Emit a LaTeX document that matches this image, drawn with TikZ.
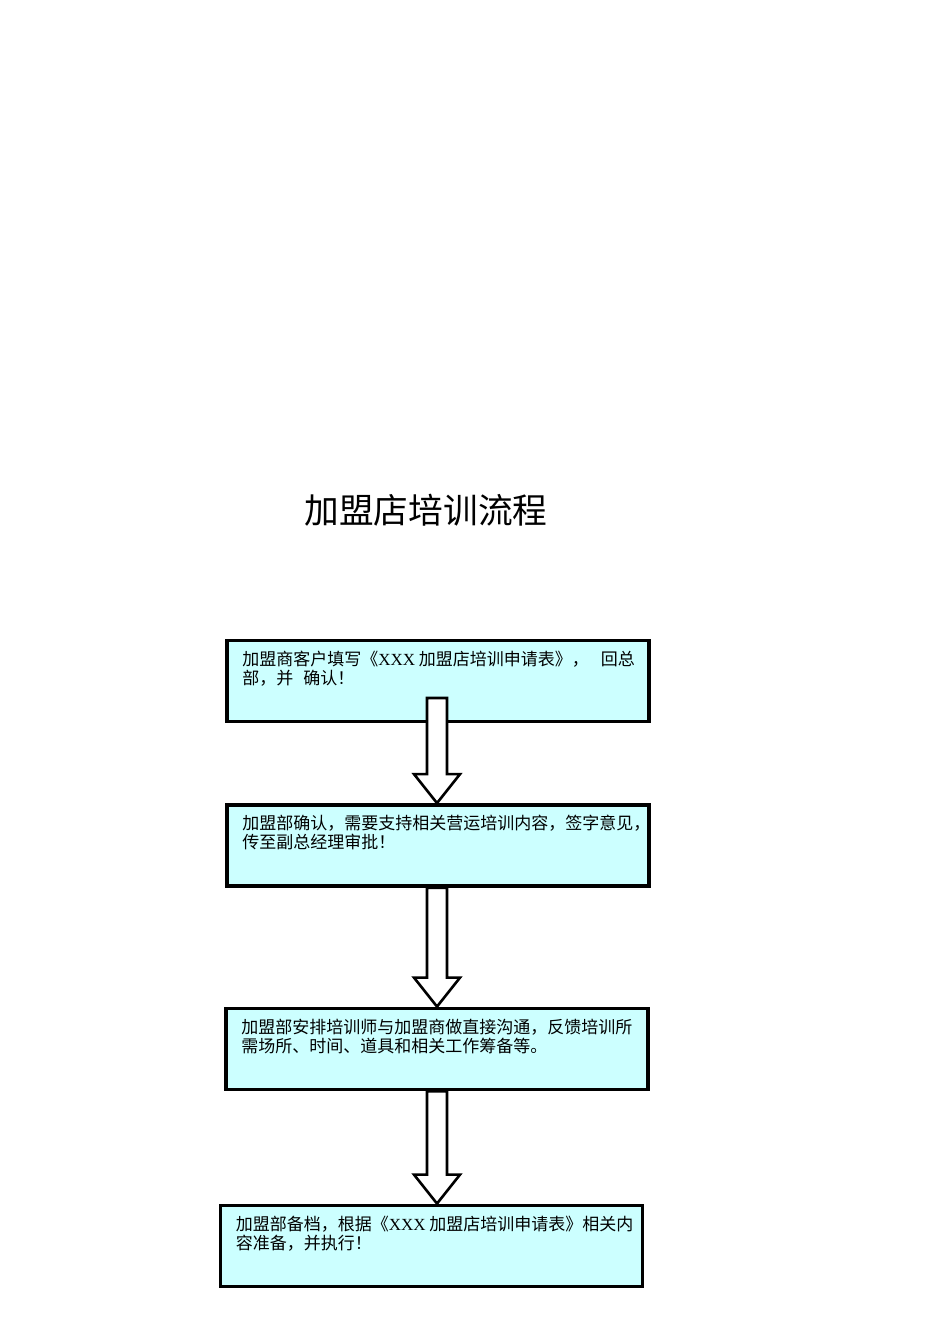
\documentclass[tikz,border=0pt]{standalone}
\usepackage{fontspec}
\setmainfont{Liberation Serif}
\newfontfamily\cjk{Noto Sans CJK SC}
\usetikzlibrary{positioning,calc}
\definecolor{boxcyan}{RGB}{204,255,255}
\tikzset{
    stepbox/.style={draw,line width=3.8pt,fill=boxcyan,minimum width=422pt,minimum height=81pt,inner sep=0pt},
    steptext/.style={anchor=north west,align=left,inner sep=0pt,font=\cjk\fontsize{17}{19}\selectfont},
    blockarr/.style={draw,line width=2.6pt,fill=white,line join=miter}
}
\begin{document}
\begin{tikzpicture}[x=1pt,y=-1pt]
            \useasboundingbox (0,0) rectangle (950,1344);
            \node[font=\cjk\fontsize{34.7}{38}\selectfont] (title) at (426,510) {加盟店培训流程};
            % boxes
            \node[stepbox] (b1) at (438,681) {};
            \node[stepbox] (b2) at (438,845.5) {};
            \node[stepbox] (b3) at (437,1049) {};
            \node[stepbox] (b4) at (431.5,1246) {};
            % texts
            \node[steptext] (t1) at ($(b1.north west)+(17,12)$)
                {加盟商客户填写《{\rmfamily XXX} 加盟店培训申请表》，\hspace{12pt}回总\\部，并\hspace{10pt}确认！};
            \node[steptext] (t2) at ($(b2.north west)+(17,12)$)
                {加盟部确认，需要支持相关营运培训内容，签字意见，\\传至副总经理审批！};
            \node[steptext] (t3) at ($(b3.north west)+(17,12)$)
                {加盟部安排培训师与加盟商做直接沟通，反馈培训所\\需场所、时间、道具和相关工作筹备等。};
            \node[steptext] (t4) at ($(b4.north west)+(17,12)$)
                {加盟部备档，根据《{\rmfamily XXX} 加盟店培训申请表》相关内\\容准备，并执行！};
            % block arrows
            \coordinate (a1) at (437,698);
            \draw[blockarr] let \p1=(a1), \p2=(b2.north -| a1) in
                (\x1-10pt,\y1) -- (\x1+10pt,\y1) -- (\x1+10pt,\y2+29pt) -- (\x1+23pt,\y2+29pt)
                -- (\p2) -- (\x1-23pt,\y2+29pt) -- (\x1-10pt,\y2+29pt) -- cycle;
            \draw[blockarr] let \p1=(b2.south -| a1), \p2=(b3.north -| a1) in
                (\x1-10pt,\y1) -- (\x1+10pt,\y1) -- (\x1+10pt,\y2+29pt) -- (\x1+23pt,\y2+29pt)
                -- (\p2) -- (\x1-23pt,\y2+29pt) -- (\x1-10pt,\y2+29pt) -- cycle;
            \draw[blockarr] let \p1=(b3.south -| a1), \p2=(b4.north -| a1) in
                (\x1-10pt,\y1) -- (\x1+10pt,\y1) -- (\x1+10pt,\y2+29pt) -- (\x1+23pt,\y2+29pt)
                -- (\p2) -- (\x1-23pt,\y2+29pt) -- (\x1-10pt,\y2+29pt) -- cycle;
\end{tikzpicture}
\end{document}
